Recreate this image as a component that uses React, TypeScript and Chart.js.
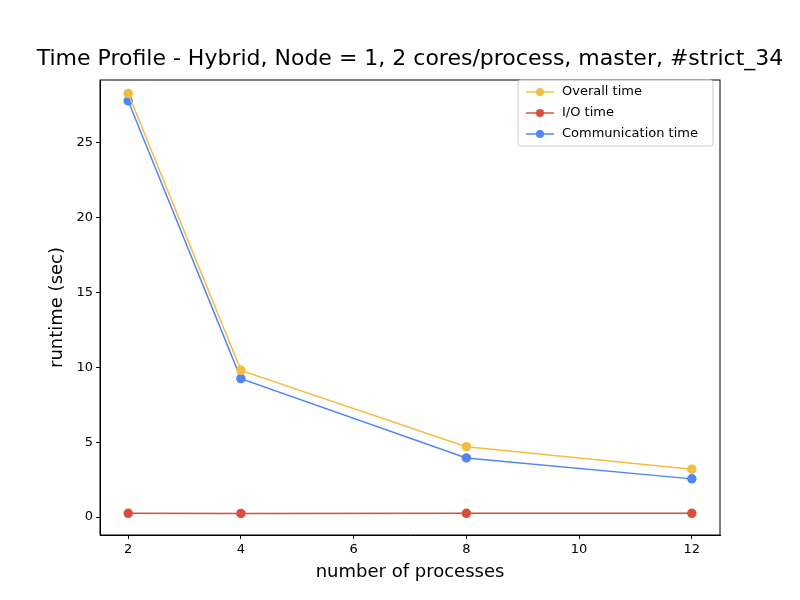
import React, { useEffect, useRef } from "react";
import { Chart, registerables } from "chart.js";

Chart.register(...registerables);

const processes = [2, 4, 8, 12];
const overallTime = [28.3, 9.8, 4.7, 3.2];
const ioTime = [0.25, 0.24, 0.25, 0.25];
const commTime = [27.8, 9.25, 3.95, 2.55];
const xTicks = [2, 4, 6, 8, 10, 12];
const yTicks = [0, 5, 10, 15, 20, 25];
const titleText = "Time Profile - Hybrid, Node = 1, 2 cores/process, master, #strict_34";
const xTitle = "number of processes";
const yTitle = "runtime (sec)";

const FONT = "'DejaVu Sans', sans-serif";
const series = [
  { label: "Overall time", data: overallTime, color: "#f3bd42" },
  { label: "I/O time", data: ioTime, color: "#d9503a" },
  { label: "Communication time", data: commTime, color: "#4f86f0" },
];

// frame, title, axis titles and matplotlib-style legend
const decorPlugin = {
  id: "decor",
  afterDraw(chart: any) {
    const { ctx, chartArea: a } = chart;
    ctx.save();
    ctx.strokeStyle = "#000";
    ctx.lineWidth = 1;
    ctx.strokeRect(a.left, a.top, a.right - a.left, a.bottom - a.top);

    ctx.fillStyle = "#000";
    ctx.font = `22px ${FONT}`;
    ctx.textAlign = "center";
    ctx.textBaseline = "alphabetic";
    ctx.fillText(titleText, (a.left + a.right) / 2, 65);

    ctx.font = `18px ${FONT}`;
    ctx.textBaseline = "middle";
    ctx.fillText(xTitle, (a.left + a.right) / 2, 572);
    ctx.save();
    ctx.translate(57, (a.top + a.bottom) / 2);
    ctx.rotate(-Math.PI / 2);
    ctx.fillText(yTitle, 0, 0);
    ctx.restore();

    const bx = 518, by = 80, bw = 195, bh = 66;
    ctx.fillStyle = "rgba(255,255,255,0.8)";
    ctx.strokeStyle = "#ccc";
    ctx.beginPath();
    ctx.roundRect(bx, by, bw, bh, 3);
    ctx.fill();
    ctx.stroke();
    ctx.font = `13px ${FONT}`;
    ctx.textAlign = "left";
    ctx.textBaseline = "middle";
    series.forEach((s, i) => {
      const y = by + 12 + i * 21;
      ctx.strokeStyle = s.color;
      ctx.lineWidth = 1.5;
      ctx.beginPath();
      ctx.moveTo(bx + 8, y);
      ctx.lineTo(bx + 36, y);
      ctx.stroke();
      ctx.fillStyle = s.color;
      ctx.beginPath();
      ctx.arc(bx + 22, y, 4, 0, Math.PI * 2);
      ctx.fill();
      ctx.fillStyle = "#000";
      ctx.fillText(s.label, bx + 44, y);
    });
    ctx.restore();
  },
};

export default function App() {
  const ref = useRef<HTMLCanvasElement>(null);

  useEffect(() => {
    document.body.style.margin = "0";
    if (!ref.current) return;
    const chart = new Chart(ref.current, {
      type: "line",
      data: {
        datasets: series.map((s) => ({
          label: s.label,
          data: s.data.map((v, i) => ({ x: processes[i], y: v })),
          borderColor: s.color,
          backgroundColor: s.color,
          borderWidth: 1.5,
          pointRadius: 4,
          pointHoverRadius: 4,
          tension: 0,
        })),
      },
      options: {
        responsive: false,
        animation: false,
        layout: { padding: { top: 80, right: 80, left: 0, bottom: 0 } },
        plugins: { legend: { display: false }, title: { display: false }, tooltip: { enabled: false } },
        scales: {
          x: {
            type: "linear",
            min: 1.5,
            max: 12.5,
            afterBuildTicks: (ax: any) => { ax.ticks = xTicks.map((v) => ({ value: v })); },
            afterFit: (ax: any) => { ax.height = 65; },
            grid: { drawOnChartArea: false, drawTicks: true, tickLength: 4, color: "#000" },
            border: { color: "#000" },
            ticks: { color: "#000", font: { family: FONT, size: 13 }, padding: 3 },
          },
          y: {
            type: "linear",
            min: -1.2,
            max: 29.2,
            afterBuildTicks: (ax: any) => { ax.ticks = yTicks.map((v) => ({ value: v })); },
            afterFit: (ax: any) => { ax.width = 100; },
            grid: { drawOnChartArea: false, drawTicks: true, tickLength: 4, color: "#000" },
            border: { color: "#000" },
            ticks: { color: "#000", font: { family: FONT, size: 13 }, padding: 3 },
          },
        },
      },
      plugins: [decorPlugin],
    });
    return () => chart.destroy();
  }, []);

  return <canvas ref={ref} width={800} height={600} style={{ display: "block" }} />;
}
